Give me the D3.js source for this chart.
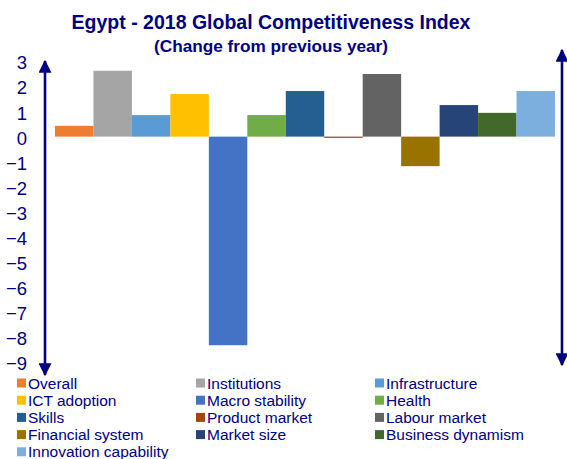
<!DOCTYPE html>
<html>
<head>
<meta charset="utf-8">
<script src="https://cdn.jsdelivr.net/npm/d3@7"></script>
<style>
  html, body { margin: 0; padding: 0; background: #fff; }
  svg { display: block; font-family: "Liberation Sans", Arial, sans-serif; }
</style>
</head>
<body>
<svg id="chart" width="567" height="459"></svg>
<script>
// Pillar names, in drawing order
const categories = [
  "Overall", "Institutions", "Infrastructure", "ICT adoption", "Macro stability",
  "Health", "Skills", "Product market", "Labour market", "Financial system",
  "Market size", "Business dynamism", "Innovation capability"
];
// Change in score from the previous year
const values = [0.43, 2.63, 0.86, 1.7, -8.33, 0.86, 1.82, -0.05, 2.5, -1.18, 1.26, 0.95, 1.82];
const colors = [
  "#ED7D31", "#A5A5A5", "#5B9BD5", "#FFC000", "#4472C4", "#70AD47", "#255E91",
  "#9E480E", "#636363", "#997300", "#264478", "#43682B", "#7CAFDD"
];
const yTicks = [3, 2, 1, 0, -1, -2, -3, -4, -5, -6, -7, -8, -9];

const navy = "#000080";
const svg = d3.select("#chart");

const x = d3.scaleBand().domain(categories).range([55, 555]).padding(0);
const y = d3.scaleLinear().domain([-9, 3]).range([362, 61.5]);

// Title
svg.append("text").attr("x", 271).attr("y", 29).attr("text-anchor", "middle")
  .attr("font-size", 19.5).attr("font-weight", "bold").attr("fill", navy)
  .text("Egypt - 2018 Global Competitiveness Index");
svg.append("text").attr("x", 271).attr("y", 52).attr("text-anchor", "middle")
  .attr("font-size", 17.2).attr("font-weight", "bold").attr("fill", navy)
  .text("(Change from previous year)");

// Bars
svg.append("g").selectAll("rect").data(categories).join("rect")
  .attr("x", d => x(d))
  .attr("width", x.bandwidth())
  .attr("y", (d, i) => y(Math.max(0, values[i])))
  .attr("height", (d, i) => Math.max(1, Math.abs(y(values[i]) - y(0))))
  .attr("fill", (d, i) => colors[i]);

// Y axis labels
const yAxis = d3.axisLeft(y).tickValues(yTicks).tickSize(0).tickPadding(0)
  .tickFormat(d3.format("d"));
const ya = svg.append("g").attr("transform", "translate(27,1.5)").call(yAxis);
ya.select(".domain").remove();
ya.selectAll("text").attr("font-size", 18.5).attr("fill", navy)
  .attr("font-family", "Liberation Sans, Arial, sans-serif");

// Double-headed arrows on both sides
const defs = svg.append("defs");
defs.append("marker").attr("id", "arrowEnd").attr("viewBox", "0 0 10 10")
  .attr("refX", 9).attr("refY", 5).attr("markerWidth", 5).attr("markerHeight", 5)
  .attr("orient", "auto").attr("markerUnits", "strokeWidth")
  .append("path").attr("d", "M0,0 L10,5 L0,10 Z").attr("fill", navy);
defs.append("marker").attr("id", "arrowStart").attr("viewBox", "0 0 10 10")
  .attr("refX", 1).attr("refY", 5).attr("markerWidth", 5).attr("markerHeight", 5)
  .attr("orient", "auto").attr("markerUnits", "strokeWidth")
  .append("path").attr("d", "M10,0 L0,5 L10,10 Z").attr("fill", navy);

[[45, 61, 375], [562, 50, 365]].forEach(([ax, y1, y2]) => {
  svg.append("line").attr("x1", ax).attr("x2", ax).attr("y1", y1).attr("y2", y2)
    .attr("stroke", navy).attr("stroke-width", 2.6)
    .attr("marker-start", "url(#arrowStart)").attr("marker-end", "url(#arrowEnd)");
});

// Legend: three columns
const colX = [17, 196, 375];
const rowY0 = 383, rowH = 17.2;
const leg = svg.append("g").selectAll("g").data(categories).join("g")
  .attr("transform", (d, i) => `translate(${colX[i % 3]},${rowY0 + Math.floor(i / 3) * rowH})`);
leg.append("rect").attr("x", 0).attr("y", -4.5).attr("width", 9).attr("height", 9)
  .attr("fill", (d, i) => colors[i]);
leg.append("text").attr("x", 11).attr("y", 5.5).attr("font-size", 15.5).attr("fill", navy)
  .text(d => d);
</script>
</body>
</html>
